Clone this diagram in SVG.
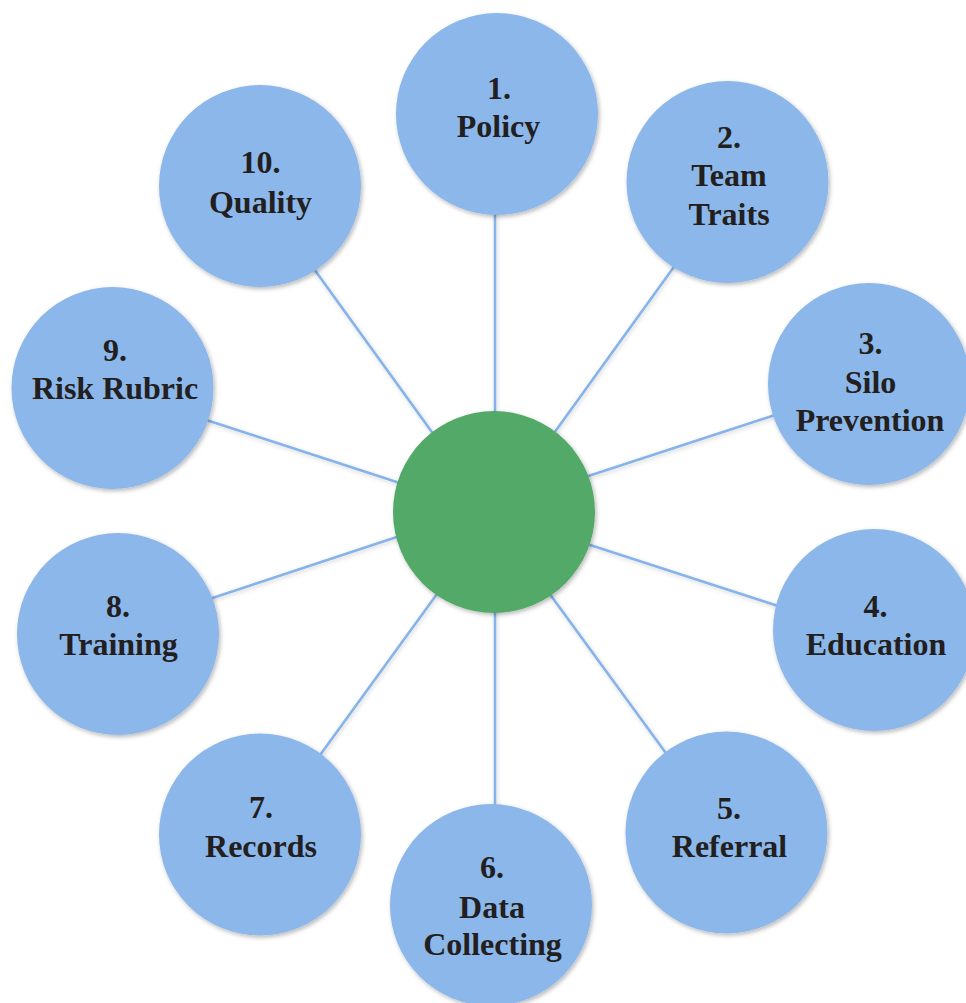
<svg xmlns="http://www.w3.org/2000/svg" width="966" height="1003" viewBox="0 0 966 1003">
  <style>
    .node { fill: #8cb7ea; filter: url(#shadow); }
    .hub { fill: #53a968; filter: url(#shadow); }
    .spoke { stroke: #85b3ea; stroke-width: 2.6; fill: none; }
    .label { font-family: "Liberation Serif", "Times New Roman", serif; font-weight: bold; font-size: 32px; fill: #231f20; text-anchor: middle; }
  </style>
  <defs>
    <filter id="shadow" x="-20%" y="-20%" width="140%" height="140%">
      <feDropShadow dx="1.5" dy="2" stdDeviation="2.2" flood-color="#000" flood-opacity="0.28"/>
    </filter>
    <filter id="lineShadow" x="-20%" y="-20%" width="140%" height="140%">
      <feDropShadow dx="1" dy="1.5" stdDeviation="2" flood-color="#000" flood-opacity="0.18"/>
    </filter>
  </defs>
  <rect width="966" height="1003" fill="#ffffff"/>

  <!-- spokes from the hub to each item -->
  <g id="connectors" class="spoke" filter="url(#lineShadow)">
    <line x1="495" y1="419" x2="495" y2="207"/>
    <line x1="550.3" y1="438.2" x2="678" y2="261.2"/>
    <line x1="580.7" y1="478.5" x2="779.9" y2="413.5"/>
    <line x1="582.4" y1="542.5" x2="782.6" y2="607.5"/>
    <line x1="547" y1="590.2" x2="669.7" y2="758.2"/>
    <line x1="495" y1="605" x2="495" y2="812"/>
    <line x1="439.7" y1="590.2" x2="317" y2="759.2"/>
    <line x1="403.6" y1="534.8" x2="205.7" y2="600.2"/>
    <line x1="403.6" y1="484.2" x2="201.7" y2="418.5"/>
    <line x1="436.4" y1="438.2" x2="311.3" y2="265.2"/>
  </g>

  <g id="hub">
    <circle class="hub" cx="494" cy="512" r="101"/>
  </g>

  <g id="node-1">
    <circle class="node" cx="497" cy="114" r="101"/>
    <text class="label" x="499" y="99">1.</text>
    <text class="label" x="498.5" y="137">Policy</text>
  </g>
  <g id="node-2">
    <circle class="node" cx="727.5" cy="182" r="101"/>
    <text class="label" x="729" y="148">2.</text>
    <text class="label" x="729" y="186">Team</text>
    <text class="label" x="729" y="225">Traits</text>
  </g>
  <g id="node-3">
    <circle class="node" cx="869" cy="384" r="101"/>
    <text class="label" x="870.5" y="354">3.</text>
    <text class="label" x="870.5" y="393">Silo</text>
    <text class="label" x="870" y="431">Prevention</text>
  </g>
  <g id="node-4">
    <circle class="node" cx="874" cy="630" r="101"/>
    <text class="label" x="875.5" y="617">4.</text>
    <text class="label" x="876" y="655">Education</text>
  </g>
  <g id="node-5">
    <circle class="node" cx="726.5" cy="832.5" r="101"/>
    <text class="label" x="729" y="819">5.</text>
    <text class="label" x="729.5" y="857">Referral</text>
  </g>
  <g id="node-6">
    <circle class="node" cx="491" cy="905" r="101"/>
    <text class="label" x="492" y="878">6.</text>
    <text class="label" x="492" y="918">Data</text>
    <text class="label" x="492.5" y="955">Collecting</text>
  </g>
  <g id="node-7">
    <circle class="node" cx="260" cy="834.5" r="101"/>
    <text class="label" x="261" y="818">7.</text>
    <text class="label" x="261" y="857">Records</text>
  </g>
  <g id="node-8">
    <circle class="node" cx="118" cy="634" r="101"/>
    <text class="label" x="118" y="617">8.</text>
    <text class="label" x="118.5" y="655">Training</text>
  </g>
  <g id="node-9">
    <circle class="node" cx="112.5" cy="388" r="101"/>
    <text class="label" x="115" y="361">9.</text>
    <text class="label" x="115" y="399">Risk Rubric</text>
  </g>
  <g id="node-10">
    <circle class="node" cx="260" cy="186" r="101"/>
    <text class="label" x="260.5" y="173">10.</text>
    <text class="label" x="260.5" y="213">Quality</text>
  </g>
</svg>
